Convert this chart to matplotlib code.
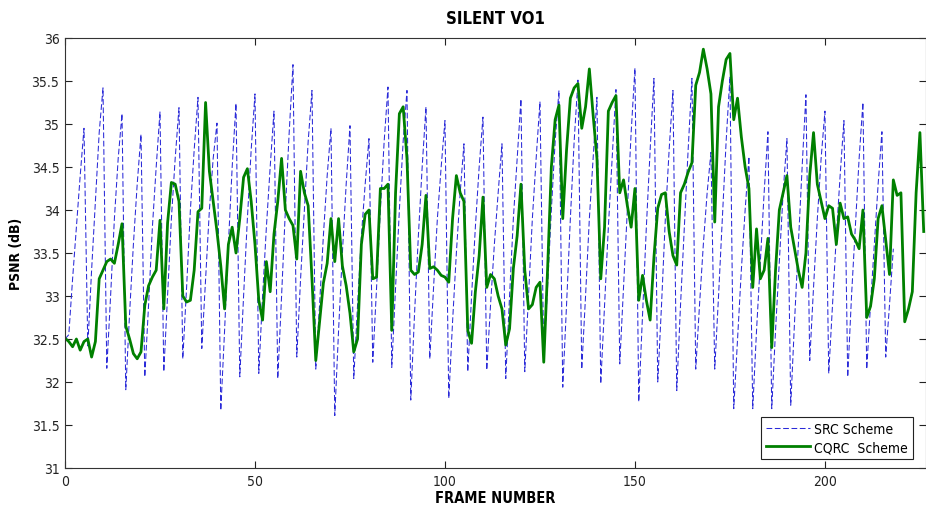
import matplotlib
matplotlib.use('Agg')
import matplotlib.pyplot as plt
import numpy as np

# SRC scheme PSNR per frame (frames 0..218)
src_psnr = [
    32.50, 32.55, 33.20, 33.80, 34.40, 34.95,
    32.42, 33.30, 34.10, 34.90, 35.42,
    32.16, 33.00, 33.90, 34.60, 35.12,
    31.91, 32.80, 33.60, 34.30, 34.88,
    32.06, 32.90, 33.80, 34.50, 35.14,
    32.12, 33.00, 33.90, 34.60, 35.19,
    32.27, 33.10, 34.00, 34.70, 35.31,
    32.39, 33.20, 34.00, 34.60, 35.01,
    31.67, 32.60, 33.60, 34.50, 35.24,
    32.06, 33.00, 33.90, 34.70, 35.35,
    32.10, 33.00, 33.80, 34.50, 35.15,
    32.04, 33.00, 34.00, 34.90, 35.69,
    32.29, 33.20, 34.00, 34.80, 35.39,
    32.15, 32.90, 33.70, 34.40, 34.95,
    31.61, 32.60, 33.50, 34.30, 34.98,
    32.04, 32.90, 33.70, 34.30, 34.83,
    32.23, 33.10, 34.00, 34.80, 35.43,
    32.17, 33.10, 34.00, 34.80, 35.39,
    31.79, 32.80, 33.70, 34.50, 35.20,
    32.27, 33.10, 33.90, 34.50, 35.04,
    31.81, 32.70, 33.50, 34.20, 34.77,
    32.12, 33.00, 33.80, 34.50, 35.08,
    32.14, 32.90, 33.60, 34.20, 34.77,
    32.04, 33.00, 33.90, 34.60, 35.29,
    32.12, 33.00, 33.90, 34.60, 35.26,
    32.29, 33.10, 34.00, 34.80, 35.39,
    31.94, 32.90, 33.90, 34.80, 35.51,
    32.15, 33.00, 33.90, 34.60, 35.31,
    31.98, 32.90, 33.80, 34.60, 35.40,
    32.21, 33.10, 34.00, 34.90, 35.65,
    31.77, 32.80, 33.80, 34.70, 35.53,
    32.00, 32.90, 33.90, 34.70, 35.39,
    31.90, 32.90, 33.80, 34.70, 35.53,
    32.15, 32.90, 33.60, 34.20, 34.67,
    32.15, 33.00, 33.90, 34.80, 35.55,
    31.69, 32.50, 33.30, 34.00, 34.62,
    31.69, 32.60, 33.40, 34.20, 34.91,
    31.69, 32.60, 33.40, 34.20, 34.83,
    31.73, 32.70, 33.60, 34.50, 35.34,
    32.25, 33.10, 33.90, 34.60, 35.15,
    32.10, 32.90, 33.70, 34.40, 35.04,
    32.06, 33.00, 33.80, 34.60, 35.25,
    32.15, 32.90, 33.60, 34.30, 34.91,
    32.29, 32.90, 33.55,
]

# CQRC scheme PSNR per frame (frames 0..226)
cqrc_psnr = [
    32.51, 32.47, 32.41, 32.50, 32.37, 32.47, 32.50, 32.29, 32.47, 33.20,
    33.30, 33.40, 33.43, 33.38, 33.60, 33.84, 32.65, 32.50, 32.33, 32.27,
    32.35, 32.89, 33.12, 33.22, 33.30, 33.88, 32.85, 33.85, 34.32, 34.30,
    34.10, 33.00, 32.93, 32.95, 33.30, 33.98, 34.02, 35.25, 34.45, 34.10,
    33.75, 33.35, 32.85, 33.60, 33.80, 33.50, 33.90, 34.38, 34.48, 34.10,
    33.60, 32.95, 32.72, 33.40, 33.05, 33.72, 34.10, 34.60, 34.00, 33.90,
    33.82, 33.43, 34.45, 34.20, 34.05, 33.20, 32.25, 32.70, 33.15, 33.38,
    33.90, 33.40, 33.90, 33.35, 33.12, 32.80, 32.35, 32.50, 33.60, 33.95,
    34.00, 33.20, 33.22, 34.25, 34.25, 34.30, 32.60, 34.20, 35.12, 35.20,
    34.60, 33.30, 33.25, 33.28, 33.60, 34.17, 33.32, 33.34, 33.30, 33.24,
    33.22, 33.16, 33.90, 34.40, 34.20, 34.10, 32.60, 32.45, 33.05, 33.47,
    34.15, 33.10, 33.25, 33.20, 33.00, 32.85, 32.43, 32.62, 33.32, 33.70,
    34.30, 33.30, 32.85, 32.90, 33.10, 33.16, 32.23, 33.30, 34.50, 35.05,
    35.22, 33.90, 34.70, 35.30, 35.42, 35.47, 34.95, 35.20, 35.64, 35.10,
    34.60, 33.20, 33.80, 35.15, 35.25, 35.33, 34.20, 34.35, 34.05, 33.80,
    34.25, 32.95, 33.24, 32.95, 32.72, 33.45, 34.02, 34.18, 34.20, 33.75,
    33.47, 33.36, 34.20, 34.30, 34.44, 34.55, 35.45, 35.60, 35.87, 35.64,
    35.35, 33.86, 35.20, 35.50, 35.75, 35.82, 35.05, 35.30, 34.85, 34.50,
    34.25, 33.10, 33.78, 33.20, 33.30, 33.67, 32.40, 33.30, 34.00, 34.20,
    34.40, 33.80, 33.55, 33.30, 33.10, 33.50, 34.40, 34.90, 34.30, 34.10,
    33.90, 34.05, 34.02, 33.60, 34.08, 33.90, 33.92, 33.72, 33.65, 33.55,
    34.00, 32.75, 32.88, 33.20, 33.90, 34.05, 33.65, 33.25, 34.35, 34.17,
    34.20, 32.70, 32.85, 33.05, 34.20, 34.90, 33.75,
]

y_ticks = [31, 31.5, 32, 32.5, 33, 33.5, 34, 34.5, 35, 35.5, 36]
x_ticks = [0, 50, 100, 150, 200]

plt.rcParams['font.family'] = ['DejaVu Sans']
plt.rcParams['font.stretch'] = 'condensed'

fig = plt.figure(figsize=(9.26, 5.10), dpi=100)
ax = fig.add_axes([65/926, 41/510, 861/926, 430/510])

ax.plot(np.arange(len(src_psnr)), src_psnr, color='#2a2ad8', lw=0.75,
        dashes=(5.5, 2.5), label='SRC Scheme')
ax.plot(np.arange(len(cqrc_psnr)), cqrc_psnr, color='#008000', lw=2.0,
        label='CQRC  Scheme')

ax.set_xlim(0, 226.6)
ax.set_ylim(31, 36)
ax.set_xticks(x_ticks)
ax.set_yticks(y_ticks)
ax.set_yticklabels([f'{v:g}' for v in y_ticks])
ax.tick_params(direction='in', length=5, top=True, right=True, labelsize=10,
               colors='#222222', pad=4)
for s in ax.spines.values():
    s.set_linewidth(0.8)
    s.set_color('#333333')

ax.set_title('SILENT VO1', fontsize=12, fontweight='bold', pad=11)
ax.set_xlabel('FRAME NUMBER', fontsize=10.5, fontweight='bold', labelpad=2)
ax.set_ylabel('PSNR (dB)', fontsize=10, fontweight='bold', labelpad=6)

leg = ax.legend(loc='lower right', bbox_to_anchor=(0.985, 0.021),
                borderaxespad=0, fancybox=False, edgecolor='#222222',
                framealpha=1, fontsize=10, handlelength=3.2,
                borderpad=0.35, labelspacing=0.3, handletextpad=0.3)
leg.get_frame().set_linewidth(0.8)

fig.savefig('out.png', dpi=100)
